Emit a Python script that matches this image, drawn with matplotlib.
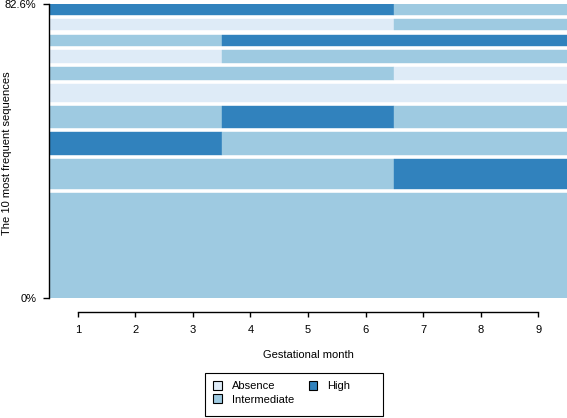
import numpy as np
from matplotlib import pyplot as plt
from matplotlib.patches import Patch, Rectangle

plt.rcParams['font.family'] = ['Liberation Sans', 'DejaVu Sans']

# states and colours
states = ["Absence", "Intermediate", "High"]
state_colors = {"Absence": "#deebf7", "Intermediate": "#9ecae1", "High": "#3182bd"}

months = [1, 2, 3, 4, 5, 6, 7, 8, 9]

# 10 most frequent sequences, most frequent first (drawn bottom -> top)
A, I, H = "Absence", "Intermediate", "High"
sequences = [
    [I, I, I, I, I, I, I, I, I],
    [I, I, I, I, I, I, H, H, H],
    [H, H, H, I, I, I, I, I, I],
    [I, I, I, H, H, H, I, I, I],
    [A, A, A, A, A, A, A, A, A],
    [I, I, I, I, I, I, A, A, A],
    [A, A, A, I, I, I, I, I, I],
    [I, I, I, H, H, H, H, H, H],
    [A, A, A, A, A, A, I, I, I],
    [H, H, H, H, H, H, I, I, I],
]
# relative frequency (%) of each sequence
freqs = [33.7, 9.6, 7.4, 6.8, 5.8, 4.2, 4.1, 3.8, 3.6, 3.6]

GAP = 1.29  # white space between bars, in % units
FS = 8

fig = plt.figure(figsize=(5.67, 4.18), dpi=100)
ax = fig.add_axes([49 / 567, 120 / 418, 518 / 567, 294 / 418])

bottom = 0.0
for seq, f in zip(sequences, freqs):
    # group consecutive identical states into runs
    start = 0
    for k in range(1, len(seq) + 1):
        if k == len(seq) or seq[k] != seq[start]:
            ax.barh(bottom, k - start, left=months[start] - 0.5, height=f,
                    align='edge', color=state_colors[seq[start]],
                    edgecolor=state_colors[seq[start]], linewidth=0.3)
            start = k
    bottom += f + GAP
top = bottom - GAP

ax.set_xlim(0.5, 9.5)
ax.set_ylim(0, top)

for s in ["top", "right"]:
    ax.spines[s].set_visible(False)
ax.spines["left"].set_bounds(0, top)
ax.spines["left"].set_linewidth(1.0)
ax.spines["bottom"].set_position(("outward", 10))
ax.spines["bottom"].set_bounds(1, 9)
ax.spines["bottom"].set_linewidth(1.0)

ax.set_xticks(months)
ax.set_xticklabels([str(m) for m in months], fontsize=FS)
ax.set_yticks([0, top])
ax.set_yticklabels(["0%", "%.1f%%" % sum(freqs)], fontsize=FS)
ax.tick_params(axis="x", direction="out", length=3.6, width=1.0, pad=5.5)
ax.tick_params(axis="y", direction="out", length=4.5, width=1.0, pad=4.5)

ax.set_xlabel("Gestational month", fontsize=FS, labelpad=11)
fig.text(7.5 / 567, 1 - 153 / 418, "The 10 most frequent sequences",
         rotation=90, fontsize=FS, ha="center", va="center")

# legend box drawn separately (R-style, wider than its content)
fig.patches.append(Rectangle((205 / 567, 2 / 418), 178 / 567, 43 / 418,
                             transform=fig.transFigure, fill=False,
                             edgecolor="black", linewidth=0.8))
handles = [Patch(facecolor=state_colors[s], edgecolor="black", linewidth=0.8, label=s)
           for s in states]
leg = fig.legend(handles=handles, ncol=2, loc="upper left",
                 bbox_to_anchor=(213 / 567, 1 - 381 / 418), fontsize=FS,
                 frameon=False,
                 handlelength=0.8, handleheight=0.8, handletextpad=0.9,
                 columnspacing=1.3, labelspacing=0.3, borderpad=0,
                 borderaxespad=0)

fig.savefig("out.png", dpi=100)
